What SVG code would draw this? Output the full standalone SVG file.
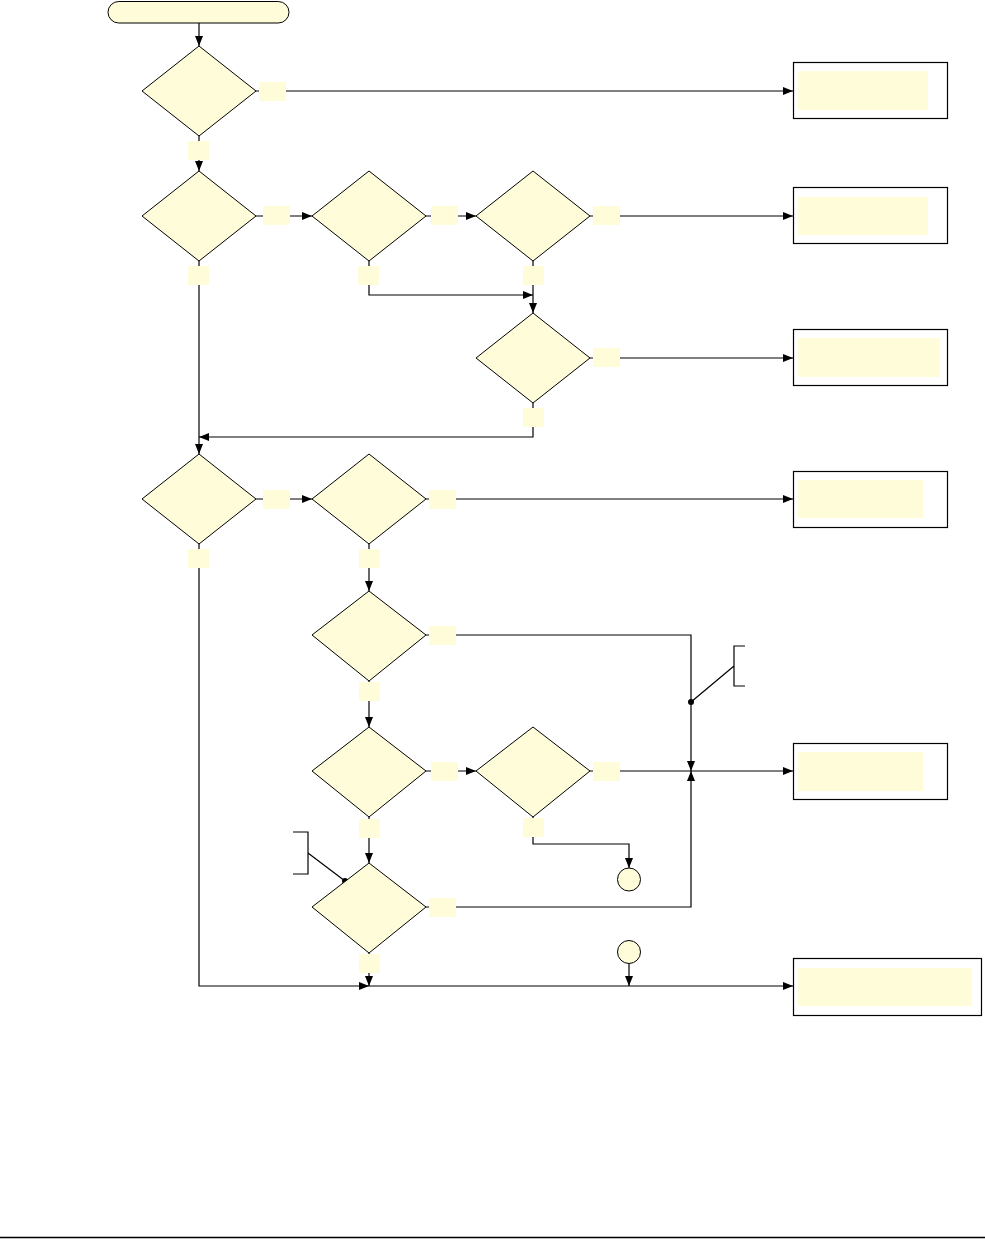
<svg xmlns="http://www.w3.org/2000/svg" width="985" height="1239" viewBox="0 0 985 1239">
<style>
.nd{fill:#FEFCD9;stroke:#000;stroke-width:1}
.bx{fill:#fff;stroke:#000;stroke-width:1.2}
.in{fill:#FEFCD9;stroke:none}
.lb{fill:#FEFCD9;stroke:none}
.cn{fill:none;stroke:#000;stroke-width:1.2}
.ar{marker-end:url(#ah)}
</style>
<defs>
<marker id="ah" viewBox="0 0 10 8" refX="10" refY="4" markerWidth="10" markerHeight="8" markerUnits="userSpaceOnUse" orient="auto">
<path d="M0,0 L10,4 L0,8 z" fill="#000"/>
</marker>
</defs>
<rect x="0" y="0" width="985" height="1239" fill="#fff"/>
<g id="connectors">
<path class="cn ar" d="M199,23 V46"/>
<path class="cn ar" d="M256,91 H793"/>
<path class="cn ar" d="M199,136 V171"/>
<path class="cn ar" d="M256,216 H312"/>
<path class="cn ar" d="M426,216 H476"/>
<path class="cn ar" d="M590,216 H793"/>
<path class="cn ar" d="M369,261 V295 H533"/>
<path class="cn ar" d="M533,261 V313"/>
<path class="cn ar" d="M590,358 H793"/>
<path class="cn ar" d="M533,403 V437 H199"/>
<path class="cn ar" d="M199,261 V454"/>
<path class="cn ar" d="M256,499 H312"/>
<path class="cn ar" d="M426,499 H793"/>
<path class="cn ar" d="M369,544 V591"/>
<path class="cn ar" d="M426,635 H691 V771"/>
<path class="cn ar" d="M369,681 V727"/>
<path class="cn ar" d="M426,771 H476"/>
<path class="cn ar" d="M590,771 H793"/>
<path class="cn ar" d="M369,817 V863"/>
<path class="cn ar" d="M533,817 V844 H629 V868"/>
<path class="cn ar" d="M426,907 H691 V771"/>
<path class="cn ar" d="M369,953 V986"/>
<path class="cn ar" d="M199,544 V986 H369"/>
<path class="cn ar" d="M369,986 H793"/>
<path class="cn ar" d="M629,964 V986"/>
<path class="cn" d="M691,702 L734,666 M745,646 H734 V686 H745"/>
<circle cx="691" cy="702" r="3" fill="#000"/>
<path class="cn" d="M345,881 L308,853 M293,832 H308 V874 H293"/>
<circle cx="345" cy="881" r="3" fill="#000"/>
<rect class="lb" x="259" y="82" width="27" height="19"/>
<rect class="lb" x="188" y="141" width="21" height="19"/>
<rect class="lb" x="263" y="206" width="27" height="19"/>
<rect class="lb" x="188" y="266" width="21" height="19"/>
<rect class="lb" x="431" y="206" width="27" height="19"/>
<rect class="lb" x="358" y="266" width="21" height="19"/>
<rect class="lb" x="593" y="206" width="27" height="19"/>
<rect class="lb" x="523" y="266" width="21" height="19"/>
<rect class="lb" x="593" y="348" width="27" height="19"/>
<rect class="lb" x="523" y="408" width="21" height="19"/>
<rect class="lb" x="263" y="490" width="27" height="19"/>
<rect class="lb" x="188" y="549" width="21" height="19"/>
<rect class="lb" x="429" y="490" width="27" height="19"/>
<rect class="lb" x="359" y="549" width="21" height="19"/>
<rect class="lb" x="429" y="626" width="27" height="19"/>
<rect class="lb" x="359" y="682" width="21" height="19"/>
<rect class="lb" x="431" y="762" width="27" height="19"/>
<rect class="lb" x="359" y="819" width="21" height="19"/>
<rect class="lb" x="593" y="762" width="27" height="19"/>
<rect class="lb" x="523" y="818" width="21" height="19"/>
<rect class="lb" x="429" y="898" width="27" height="19"/>
<rect class="lb" x="359" y="954" width="21" height="19"/>
</g>
<g id="start"><rect class="nd" x="108" y="1.5" width="181" height="21.5" rx="10.75"/></g>
<g id="d1"><polygon class="nd" points="199,46 256,91 199,136 142,91"/></g>
<g id="d2"><polygon class="nd" points="199,171 256,216 199,261 142,216"/></g>
<g id="d3"><polygon class="nd" points="369,171 426,216 369,261 312,216"/></g>
<g id="d4"><polygon class="nd" points="533,171 590,216 533,261 476,216"/></g>
<g id="d5"><polygon class="nd" points="533,313 590,358 533,403 476,358"/></g>
<g id="d6"><polygon class="nd" points="199,454 256,499 199,544 142,499"/></g>
<g id="d7"><polygon class="nd" points="369,454 426,499 369,544 312,499"/></g>
<g id="d8"><polygon class="nd" points="369,591 426,635 369,681 312,635"/></g>
<g id="d9"><polygon class="nd" points="369,727 426,771 369,817 312,771"/></g>
<g id="d10"><polygon class="nd" points="533,727 590,771 533,817 476,771"/></g>
<g id="d11"><polygon class="nd" points="369,863 426,907 369,953 312,907"/></g>
<g id="c1"><circle class="nd" cx="629" cy="879.5" r="11.5"/></g>
<g id="c2"><circle class="nd" cx="629" cy="952" r="11.5"/></g>
<g id="box1"><rect class="bx" x="793.5" y="62.5" width="154" height="56"/><rect class="in" x="798" y="71" width="130" height="39"/></g>
<g id="box2"><rect class="bx" x="793.5" y="187.5" width="154" height="56"/><rect class="in" x="798" y="197" width="130" height="38"/></g>
<g id="box3"><rect class="bx" x="793.5" y="329.5" width="154" height="56"/><rect class="in" x="798" y="338" width="142" height="39"/></g>
<g id="box4"><rect class="bx" x="793.5" y="471.5" width="154" height="56"/><rect class="in" x="798" y="480" width="125" height="38"/></g>
<g id="box5"><rect class="bx" x="793.5" y="743.5" width="154" height="56"/><rect class="in" x="798" y="752" width="125" height="39"/></g>
<g id="box6"><rect class="bx" x="793.5" y="958.5" width="188" height="57"/><rect class="in" x="798" y="968" width="174" height="38"/></g>
<line x1="0" y1="1237.5" x2="985" y2="1237.5" stroke="#000" stroke-width="1.5"/>
</svg>
